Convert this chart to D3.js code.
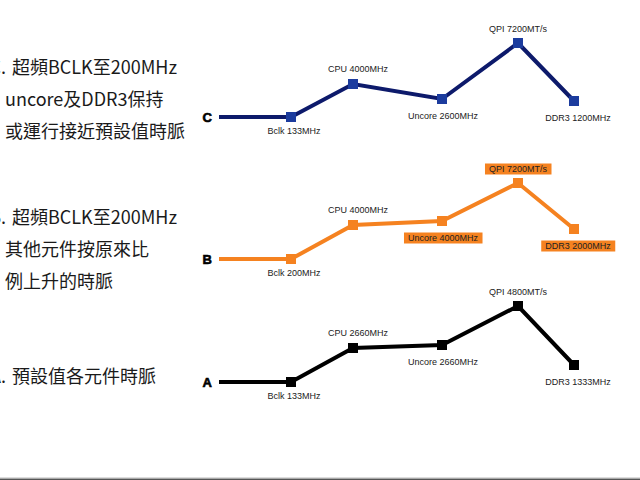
<!DOCTYPE html>
<html>
<head>
<meta charset="utf-8">
<script src="https://cdn.jsdelivr.net/npm/d3@7"></script>
<style>
  html, body { margin: 0; padding: 0; background: #fff; }
  svg { display: block; }
</style>
</head>
<body>
<div id="chart"></div>
<script>
const width = 640;
const height = 480;

// stages along each line (first one is the lead-in, no marker)
const stages = ["start", "Bclk", "CPU", "Uncore", "QPI", "DDR3"];

// relative heights above each panel's baseline
const levelsC = [0, 0, 33, 18, 74, 16];
const levelsB = [0, 0, 34, 38, 76, 30];
const levelsA = [0, 0, 34, 37, 76, 17];

const labelsC = ["", "Bclk 133MHz", "CPU 4000MHz", "Uncore 2600MHz", "QPI 7200MT/s", "DDR3 1200MHz"];
const labelsB = ["", "Bclk 200MHz", "CPU 4000MHz", "Uncore 4000MHz", "QPI 7200MT/s", "DDR3 2000MHz"];
const labelsA = ["", "Bclk 133MHz", "CPU 2660MHz", "Uncore 2660MHz", "QPI 4800MT/s", "DDR3 1333MHz"];

// which labels got the orange highlight box
const highlightB = [false, false, false, true, true, true];

const notesC = ["C.|超頻BCLK至200MHz", "uncore及DDR3保持", "或運行接近預設值時脈"];
const notesB = ["B.|超頻BCLK至200MHz", "其他元件按原來比", "例上升的時脈"];
const notesA = ["A.|預設值各元件時脈"];

const panels = [
    { name: "C", levels: levelsC, labels: labelsC, highlight: null, base: 117,
      line: "#0d1a6b", marker: "#1c3c9e", notes: notesC, noteY: 68 },
    { name: "B", levels: levelsB, labels: labelsB, highlight: highlightB, base: 259,
      line: "#f58220", marker: "#f58220", notes: notesB, noteY: 218 },
    { name: "A", levels: levelsA, labels: labelsA, highlight: null, base: 382,
      line: "#000000", marker: "#000000", notes: notesA, noteY: 377 }
];

const svg = d3.select("#chart")
    .append("svg")
    .attr("width", width)
    .attr("height", height);

// stage positions are not evenly spaced in the original
const xScale = d3.scaleOrdinal()
    .domain(stages)
    .range([219, 291, 353, 442, 518, 574]);

// label placement per stage (above / below the marker)
const labelPos = {
    Bclk: { dx: 3, dy: 14 },
    CPU: { dx: 5, dy: -15 },
    Uncore: { dx: 1, dy: 17 },
    QPI: { dx: 0, dy: -14 },
    DDR3: { dx: 4, dy: 17 }
};

const font = "'Liberation Sans', Arial, sans-serif";

panels.forEach(p => {
    const yScale = d3.scaleLinear()
        .domain([0, 100])
        .range([p.base, p.base - 100]);

    const pts = stages.map((s, i) => ({
        stage: s,
        level: p.levels[i],
        label: p.labels[i],
        hl: p.highlight ? p.highlight[i] : false
    }));

    const g = svg.append("g");

    // panel letter
    g.append("text")
        .attr("x", xScale("start") - 7)
        .attr("y", yScale(0))
        .attr("dy", "0.36em")
        .attr("text-anchor", "end")
        .style("font-family", font)
        .style("font-size", "13px")
        .style("font-weight", "900")
        .style("stroke", "#000")
        .style("stroke-width", "0.6px")
        .style("fill", "#000")
        .text(p.name);

    const line = d3.line()
        .x(d => xScale(d.stage))
        .y(d => yScale(d.level));

    g.append("path")
        .datum(pts)
        .attr("d", line)
        .attr("fill", "none")
        .attr("stroke", p.line)
        .attr("stroke-width", 4)
        .attr("stroke-linejoin", "miter");

    const marks = pts.filter(d => d.stage !== "start");

    g.selectAll(".marker")
        .data(marks)
        .join("rect")
        .attr("class", "marker")
        .attr("x", d => xScale(d.stage) - 5)
        .attr("y", d => yScale(d.level) - 5)
        .attr("width", 10)
        .attr("height", 10)
        .attr("fill", p.marker);

    const lbl = g.selectAll(".lbl")
        .data(marks)
        .join("g")
        .attr("class", "lbl")
        .attr("transform", d => `translate(${xScale(d.stage) + labelPos[d.stage].dx},${yScale(d.level) + labelPos[d.stage].dy})`);

    lbl.append("text")
        .attr("text-anchor", "middle")
        .attr("dy", "0.35em")
        .style("font-family", font)
        .style("font-size", "9px")
        .style("fill", "#222")
        .text(d => d.label);

    // orange boxes behind highlighted labels
    lbl.filter(d => d.hl).each(function() {
        const t = d3.select(this).select("text");
        const bb = t.node().getBBox();
        d3.select(this).insert("rect", "text")
            .attr("x", bb.x - 4)
            .attr("y", -5.5)
            .attr("width", bb.width + 8)
            .attr("height", 11)
            .attr("fill", "#f58220");
    });

    // notes on the left (the letter prefix runs off the left edge, as in the original)
    p.notes.forEach((n, i) => {
        const t = g.append("text")
            .attr("y", p.noteY + i * 32)
            .attr("dy", "0.36em")
            .style("font-family", "'Noto Sans CJK TC', 'Noto Sans', sans-serif")
            .style("font-size", "18px")
            .style("fill", "#1a1a1a");
        if (n.includes("|")) {
            const [pre, rest] = n.split("|");
            t.append("tspan").attr("x", 6).attr("text-anchor", "end").text(pre);
            t.append("tspan").attr("x", 12).attr("text-anchor", "start").text(rest);
        } else {
            t.attr("x", 5).text(n);
        }
    });
});

// bottom frame edge
svg.append("rect")
    .attr("x", 0).attr("y", 477).attr("width", width).attr("height", 1)
    .attr("fill", "#ddd");
svg.append("rect")
    .attr("x", 0).attr("y", 478.5).attr("width", width).attr("height", 1.5)
    .attr("fill", "#555");
</script>
</body>
</html>
